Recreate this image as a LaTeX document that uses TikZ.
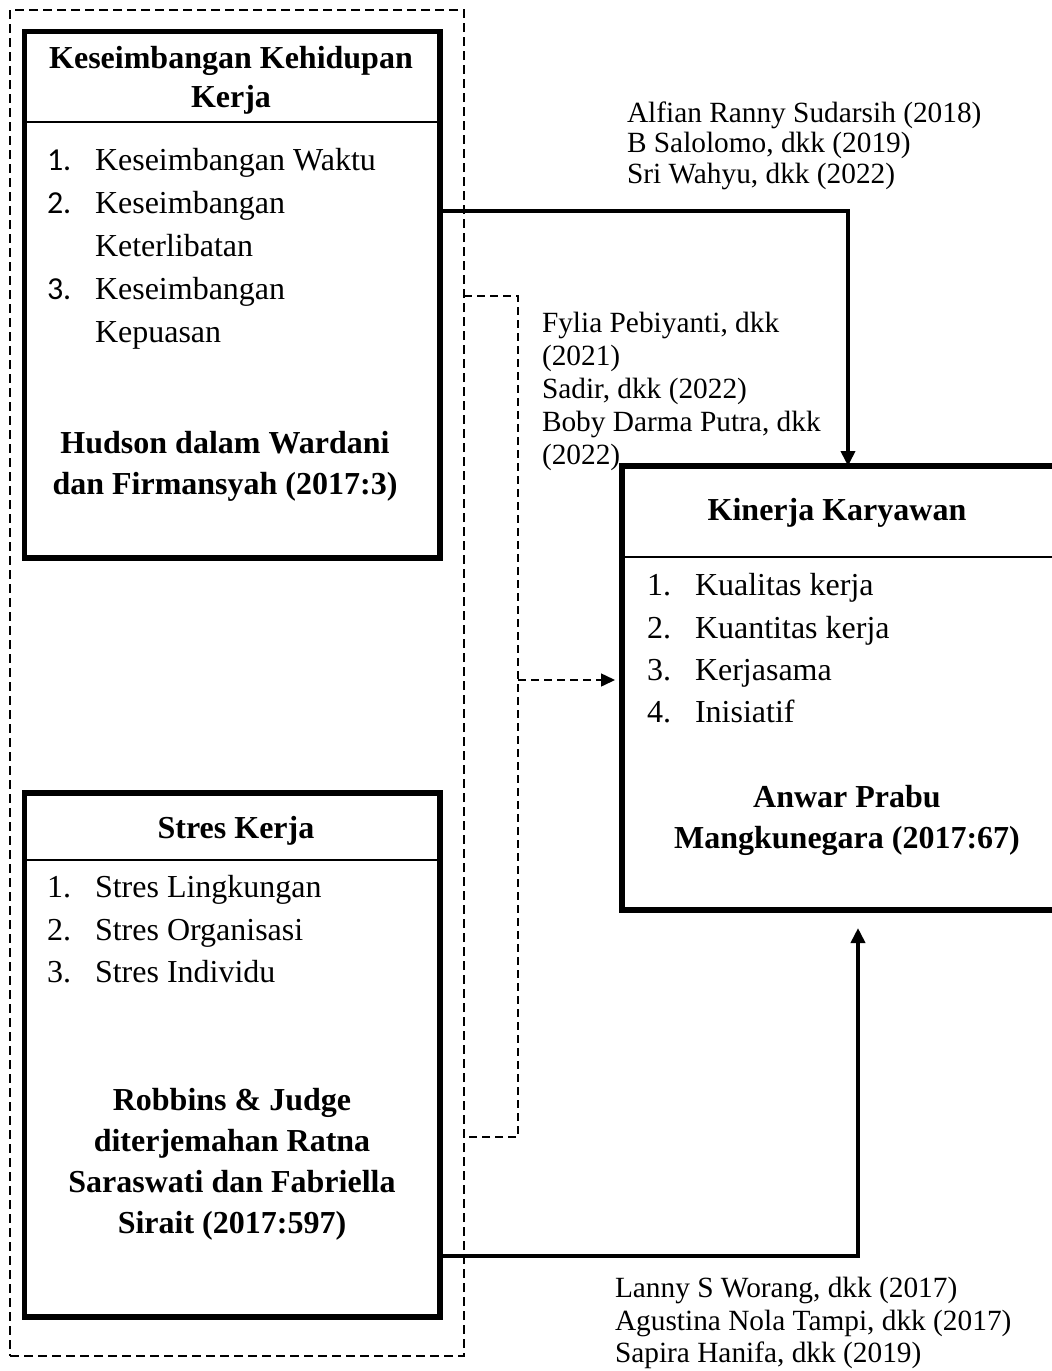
\documentclass[tikz,border=0pt]{standalone}
\usepackage{fontspec}
\setmainfont{Liberation Serif}
\newfontfamily\calibrifont{Carlito}
\usetikzlibrary{arrows.meta}
\begin{document}
\begin{tikzpicture}[x=0.5pt,y=-0.5pt,
  every node/.style={inner sep=0pt, outer sep=0pt},
  txt/.style={font=\fontsize{16pt}{21pt}\selectfont},
  btxt/.style={font=\fontsize{16pt}{21pt}\selectfont\bfseries, anchor=base},
  item/.style={txt, anchor=base west},
  reftxt/.style={font=\fontsize{14.67pt}{16pt}\selectfont, anchor=base west},
  varbox/.style={draw, line width=2.75pt, rectangle},
  sepline/.style={line width=0.65pt},
  grpbox/.style={draw, rectangle, line width=1pt, dash pattern=on 4.5pt off 2.5pt},
  conn/.style={line width=1.9pt, -{Triangle[length=7.5pt,width=7pt]}},
  dconn/.style={line width=0.75pt, dash pattern=on 4pt off 2.5pt},
]
\useasboundingbox (0,0) rectangle (1052,1371);
\fill[white] (0,0) rectangle (1052,1371);
\clip (0,0) rectangle (1052,1371);

% boxes
\node[grpbox, minimum width=227pt, minimum height=673pt] (grp) at (237,683) {};
\node[varbox, minimum width=207.75pt, minimum height=263.25pt] (wlb) at (232.25,294.75) {};
\node[varbox, minimum width=207.75pt, minimum height=262pt] (stres) at (232.25,1055) {};
\node[varbox, minimum width=225pt, minimum height=222pt] (kin) at (847,688) {};

% separators
\coordinate (s1) at (0,122);
\coordinate (s2) at (0,860);
\coordinate (s3) at (0,557);
\draw[sepline] (wlb.west |- s1) -- (wlb.east |- s1);
\draw[sepline] (stres.west |- s2) -- (stres.east |- s2);
\draw[sepline] (kin.west |- s3) -- (kin.east |- s3);

% box 1 text
\node[btxt] (h1a) at (231,68) {Keseimbangan Kehidupan};
\node[btxt] (h1b) at (231,107) {Kerja};
\node[item] (n11) at (47,170) {\calibrifont 1.};
\node[item] (t11) at (95,170) {Keseimbangan Waktu};
\node[item] (n12) at (47,213) {\calibrifont 2.};
\node[item] (t12) at (95,213) {Keseimbangan};
\node[item] (t12b) at (95,256) {Keterlibatan};
\node[item] (n13) at (47,299) {\calibrifont 3.};
\node[item] (t13) at (95,299) {Keseimbangan};
\node[item] (t13b) at (95,342) {Kepuasan};
\node[btxt] (r1a) at (225,453) {Hudson dalam Wardani};
\node[btxt] (r1b) at (225,494) {dan Firmansyah (2017:3)};

% box 3 text
\node[btxt] (h3) at (236,838) {Stres Kerja};
\node[item] (n31) at (47,897) {1.};
\node[item] (t31) at (95,897) {Stres Lingkungan};
\node[item] (n32) at (47,940) {2.};
\node[item] (t32) at (95,940) {Stres Organisasi};
\node[item] (n33) at (47,982) {3.};
\node[item] (t33) at (95,982) {Stres Individu};
\node[btxt] (r3a) at (232,1110) {Robbins \& Judge};
\node[btxt] (r3b) at (232,1151) {diterjemahan Ratna};
\node[btxt] (r3c) at (232,1192) {Saraswati dan Fabriella};
\node[btxt] (r3d) at (232,1233) {Sirait (2017:597)};

% kinerja text
\node[btxt] (hk) at (837,520) {Kinerja Karyawan};
\node[item] (nk1) at (647,595) {1.};
\node[item] (tk1) at (695,595) {Kualitas kerja};
\node[item] (nk2) at (647,638) {2.};
\node[item] (tk2) at (695,638) {Kuantitas kerja};
\node[item] (nk3) at (647,680) {3.};
\node[item] (tk3) at (695,680) {Kerjasama};
\node[item] (nk4) at (647,722) {4.};
\node[item] (tk4) at (695,722) {Inisiatif};
\node[btxt] (rka) at (847,807) {Anwar Prabu};
\node[btxt] (rkb) at (847,848) {Mangkunegara (2017:67)};

% references
\node[reftxt] (ga1) at (627,122) {Alfian Ranny Sudarsih (2018)};
\node[reftxt] (ga2) at (627,152) {B Salolomo, dkk (2019)};
\node[reftxt] (ga3) at (627,183) {Sri Wahyu, dkk (2022)};
\node[reftxt] (gb1) at (542,332) {Fylia Pebiyanti, dkk};
\node[reftxt] (gb2) at (542,365) {(2021)};
\node[reftxt] (gb3) at (542,398) {Sadir, dkk (2022)};
\node[reftxt] (gb4) at (542,431) {Boby Darma Putra, dkk};
\node[reftxt] (gb5) at (542,464) {(2022)};
\node[reftxt] (gc1) at (615,1297) {Lanny S Worang, dkk (2017)};
\node[reftxt] (gc2) at (615,1330) {Agustina Nola Tampi, dkk (2017)};
\node[reftxt] (gc3) at (615,1362) {Sapira Hanifa, dkk (2019)};

% solid connectors
\coordinate (c1) at (848,211);
\draw[conn] (wlb.east |- c1) -- (c1) -- (kin.north -| c1);
\coordinate (c2) at (858,1256);
\draw[conn, shorten >=9pt] (stres.east |- c2) -- (c2) -- (kin.south -| c2);

% dashed connector
\coordinate (d1) at (518,296);
\coordinate (d2) at (518,1137);
\coordinate (d3) at (518,680);
\draw[dconn] (grp.east |- d1) -- (d1) -- (d2) -- (grp.east |- d2);
\draw[dconn, -{Triangle[length=7pt,width=6.5pt]}, shorten >=3.5pt] (d3) -- (kin.west |- d3);
\end{tikzpicture}
\end{document}
